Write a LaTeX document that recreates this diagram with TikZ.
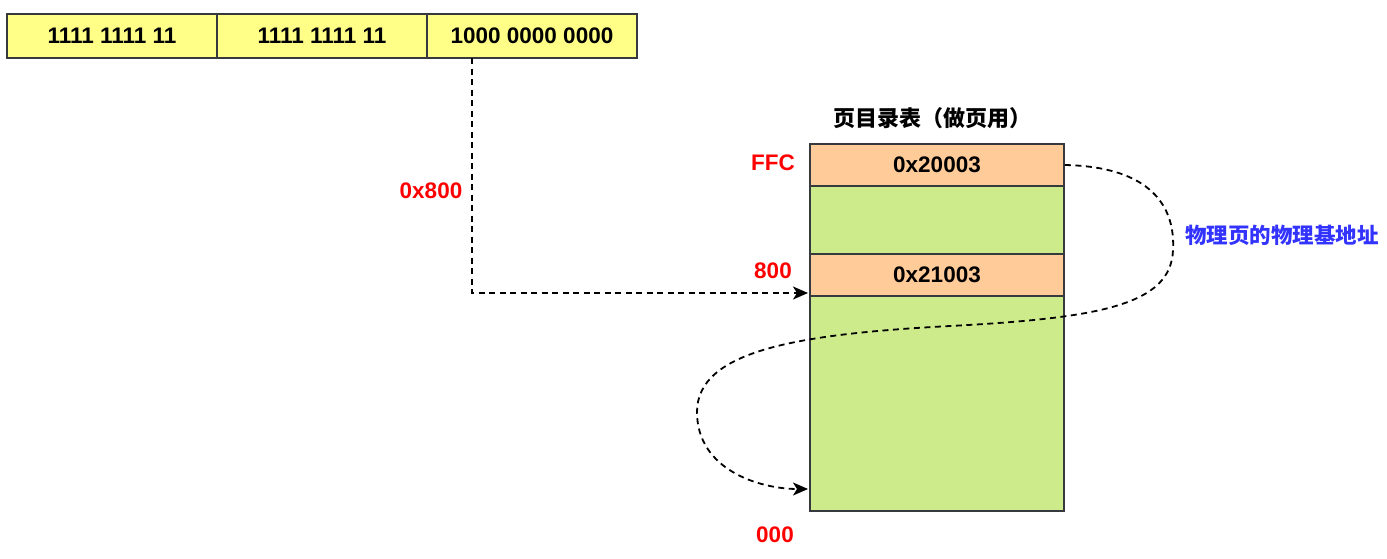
\documentclass[tikz,border=0pt]{standalone}
\usepackage{fontspec}
\setmainfont{Liberation Sans}
\newfontfamily\cjk{Noto Sans CJK SC}
\usetikzlibrary{arrows.meta}

\definecolor{boxline}{HTML}{36393D}
\definecolor{bityellow}{HTML}{FFFF88}
\definecolor{pteorange}{HTML}{FFCC99}
\definecolor{ptegreen}{HTML}{CDEB8B}
\definecolor{labelblue}{HTML}{3333FF}

\begin{document}
\begin{tikzpicture}[x=1pt, y=-1pt, >={Stealth[length=15pt,width=13pt,inset=4pt]}]
		\useasboundingbox (0,0) rectangle (1387,558);
		\tikzstyle{every node} = [font=\fontsize{22.5}{26}\selectfont\bfseries, inner sep=0pt]
		\tikzstyle{cell} = [draw=boxline, line width=1.8pt, minimum width=254pt, text=black]
		\tikzstyle{link} = [draw=black, line width=1.8pt, dash pattern=on 6pt off 4.5pt]

		% linear address
		\node[cell, fill=bityellow, minimum width=210pt, minimum height=44pt] (dir) at (112, 36) {1111 1111 11};
		\node[cell, fill=bityellow, minimum width=210pt, minimum height=44pt] (tab) at (322, 36) {1111 1111 11};
		\node[cell, fill=bityellow, minimum width=210pt, minimum height=44pt] (off) at (532, 36) {1000 0000 0000};

		% page directory used as page table
		\node[cell, fill=pteorange, minimum height=42pt] (ffc) at (937, 165) {0x20003};
		\node[cell, fill=ptegreen, minimum height=68pt] (mid) at (937, 220) {};
		\node[cell, fill=pteorange, minimum height=42pt] (e800) at (937, 275) {0x21003};
		\node[cell, fill=ptegreen, minimum height=215pt] (low) at (937, 403.5) {};

		\node[font=\fontsize{22}{26}\selectfont\bfseries] (title) at (932, 118) {\cjk 页目录表（做页用）};
		\node[text=red] (lffc) at (773, 163) {FFC};
		\node[text=red] (l800) at (773, 271) {800};
		\node[text=red] (l000) at (775, 535) {000};
		\node[text=red] (loff) at (431, 191) {0x800};
		\node[text=labelblue, font=\fontsize{21.5}{26}\selectfont\bfseries] (base) at (1282, 235) {\cjk 物理页的物理基地址};

		\coordinate (p) at (472, 58);
		\coordinate (in800) at (808, 293);
		\coordinate (in000) at (808, 489);

		\draw[link, ->] (p) |- (in800);
		\draw[link, ->] (ffc.east) .. controls (1160, 167) and (1175, 215) .. (1173, 250)
			.. controls (1171, 305) and (1100, 318) .. (950, 326)
			.. controls (800, 334) and (697, 350) .. (697, 412)
			.. controls (697, 470) and (760, 489) .. (in000);
\end{tikzpicture}
\end{document}
